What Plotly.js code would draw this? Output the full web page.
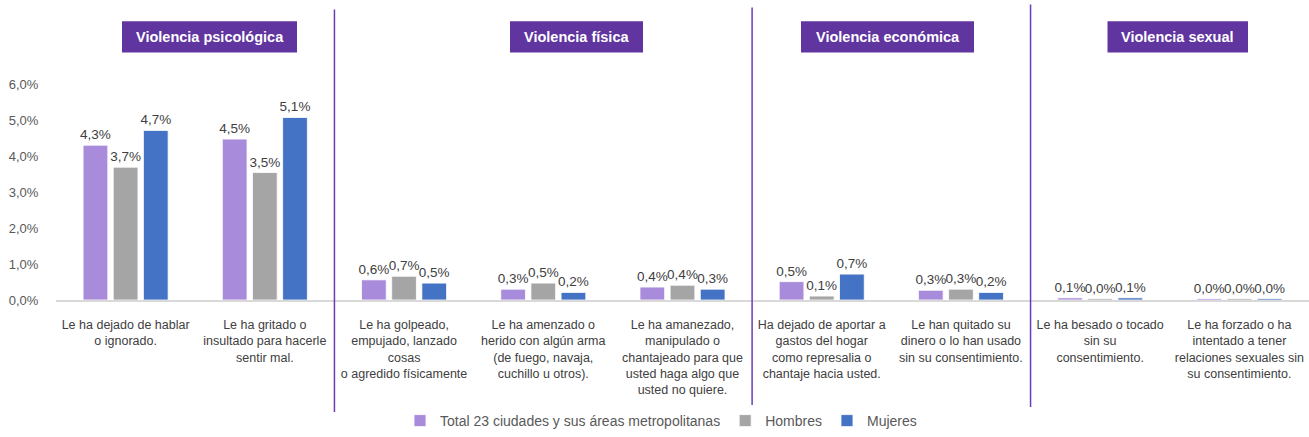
<!DOCTYPE html>
<html>
<head>
<meta charset="utf-8">
<script src="https://cdn.plot.ly/plotly-3.0.1.min.js"></script>
<style>html,body{margin:0;padding:0;background:#fff;}#chart{width:1309px;height:437px;}</style>
</head>
<body>
<div id="chart"></div>
<script>
const categories = [
  "Le ha dejado de hablar<br>o ignorado.",
  "Le ha gritado o<br>insultado para hacerle<br>sentir mal.",
  "Le ha golpeado,<br>empujado, lanzado<br>cosas<br>o agredido físicamente",
  "Le ha amenzado o<br>herido con algún arma<br>(de fuego, navaja,<br>cuchillo u otros).",
  "Le ha amanezado,<br>manipulado o<br>chantajeado para que<br>usted haga algo que<br>usted no quiere.",
  "Ha dejado de aportar a<br>gastos del hogar<br>como represalia o<br>chantaje hacia usted.",
  "Le han quitado su<br>dinero o lo han usado<br>sin su consentimiento.",
  "Le ha besado o tocado<br>sin su<br>consentimiento.",
  "Le ha forzado o ha<br>intentado a tener<br>relaciones sexuales sin<br>su consentimiento."
];
const seriesNames = ["Total 23 ciudades y sus áreas metropolitanas", "Hombres", "Mujeres"];
const totalValues   = [4.3, 4.47, 0.56, 0.30, 0.36, 0.51, 0.27, 0.06, 0.04];
const hombresValues = [3.69, 3.54, 0.66, 0.47, 0.41, 0.11, 0.30, 0.04, 0.04];
const mujeresValues = [4.71, 5.07, 0.47, 0.21, 0.30, 0.72, 0.21, 0.06, 0.04];
const sectionTitles = ["Violencia psicológica", "Violencia física", "Violencia económica", "Violencia sexual"];
const colors = ["#A98BDB", "#A5A5A5", "#4472C4"];

// layout helpers (pixel -> paper)
const W = 1309, H = 437, ML = 56, MR = 0, MT = 84, MB = 133;
const PW = W - ML - MR, PH = H - MT - MB;
const px = v => (v - ML) / PW;
const py = v => (H - MB - v) / PH;

const allValues = [totalValues, hombresValues, mujeresValues];
const traces = allValues.map((vals, i) => ({
  type: "bar",
  name: seriesNames[i],
  x: categories,
  y: vals,
  marker: {color: colors[i], line: {color: "#ffffff", width: 0.8}},
  texttemplate: "%{y:.1f}%",
  textposition: "outside",
  constraintext: "none",
  cliponaxis: false,
  textfont: {family: "Liberation Sans, Arial, sans-serif", size: 13.5, color: "#404040"},
  hoverinfo: "skip"
}));

const sepX = [1.5, 4.5, 6.5];
const sepY = [[8, 418], [6, 417], [3, 413]];
const shapes = sepX.map((x, i) => ({
  type: "line", xref: "x", yref: "paper",
  x0: x, x1: x, y0: py(sepY[i][1]), y1: py(sepY[i][0]),
  line: {color: "#6A3DB8", width: 1.5}
}));
const boxes = [[122, 297], [510, 643], [801, 974], [1107.5, 1248]];
boxes.forEach(b => shapes.push({
  type: "rect", xref: "paper", yref: "paper",
  x0: px(b[0]), x1: px(b[1]), y0: py(52), y1: py(20),
  fillcolor: "#6035A0", line: {width: 0}
}));
const annotations = boxes.map((b, i) => ({
  xref: "paper", yref: "paper",
  x: px((b[0] + b[1]) / 2), y: py(36),
  xanchor: "center", yanchor: "middle",
  text: "<b>" + sectionTitles[i] + "</b>",
  showarrow: false,
  font: {family: "Liberation Sans, Arial, sans-serif", size: 14.5, color: "#ffffff"}
}));

const layout = {
  width: W, height: H,
  margin: {l: ML, r: MR, t: MT, b: MB},
  paper_bgcolor: "#ffffff", plot_bgcolor: "#ffffff",
  separators: ",.",
  barmode: "group",
  bargap: 0.35,
  bargroupgap: 0.18,
  showlegend: true,
  legend: {
    orientation: "h", x: px(400), y: py(428), xanchor: "left", yanchor: "middle",
    font: {family: "Liberation Sans, Arial, sans-serif", size: 14, color: "#595959"},
    itemclick: false, itemdoubleclick: false, traceorder: "normal"
  },
  xaxis: {
    type: "category", range: [-0.5, 8.5], tickangle: 0,
    showline: true, linecolor: "#D9D9D9", linewidth: 2,
    ticks: "outside", ticklen: 12, tickcolor: "rgba(0,0,0,0)",
    tickfont: {family: "Liberation Sans, Arial, sans-serif", size: 12.5, color: "#404040"},
    showgrid: false, zeroline: false, fixedrange: true, automargin: false
  },
  yaxis: {
    range: [0, 6], dtick: 1, tickformat: ".1f", ticksuffix: "%",
    showgrid: false, zeroline: false, showline: false,
    ticks: "outside", ticklen: 14, tickcolor: "rgba(0,0,0,0)",
    tickfont: {family: "Liberation Sans, Arial, sans-serif", size: 13, color: "#595959"},
    fixedrange: true, automargin: false
  },
  shapes: shapes,
  annotations: annotations
};

Plotly.newPlot("chart", traces, layout, {displayModeBar: false, staticPlot: true});
</script>
</body>
</html>
